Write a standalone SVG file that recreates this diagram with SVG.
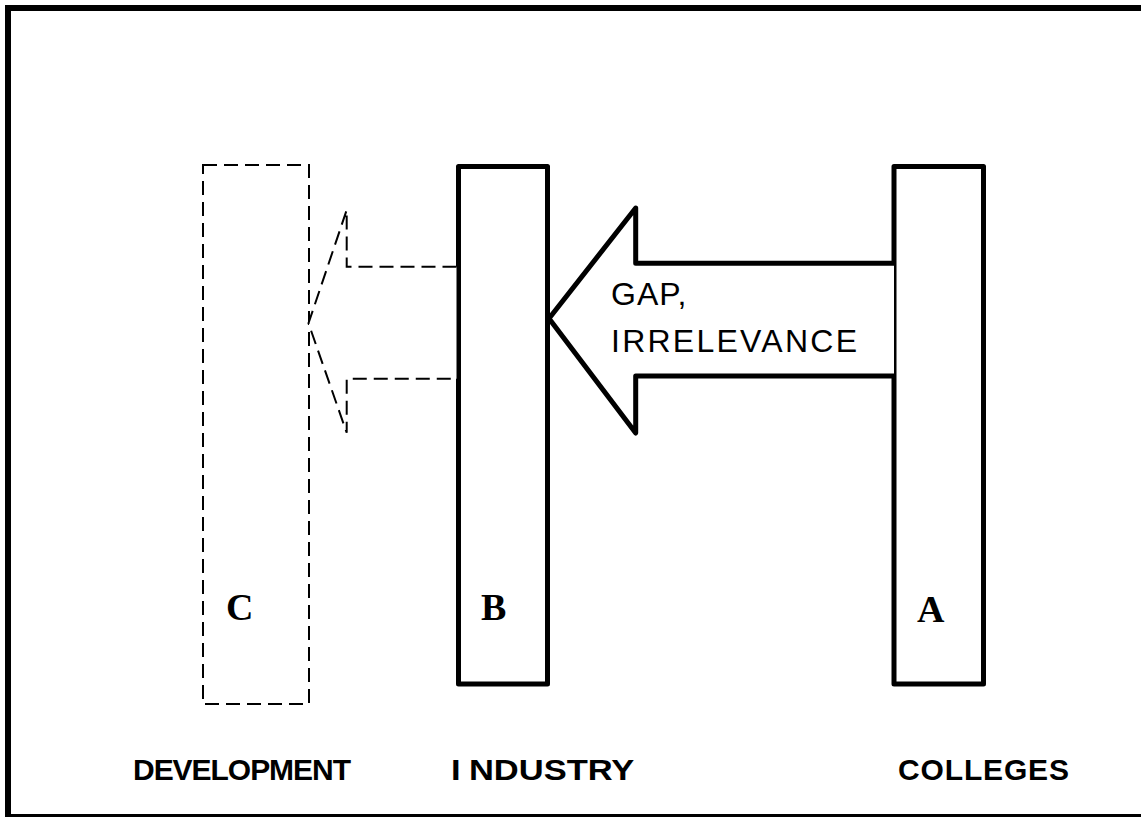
<svg xmlns="http://www.w3.org/2000/svg" width="1141" height="817" viewBox="0 0 1141 817">
<style>
.solid{fill:#fff;stroke:#000;stroke-width:5;stroke-linejoin:round}
.dash{fill:#fff;stroke:#000;stroke-width:2;stroke-dasharray:14 7}
.letter{font-family:"Liberation Serif","Times New Roman",serif;font-weight:bold;font-size:38px;fill:#000}
.label{font-family:"Liberation Sans",Arial,sans-serif;font-weight:bold;font-size:30px;fill:#000}
.gap{font-family:"Liberation Sans",Arial,sans-serif;font-size:32px;fill:#000}
</style>
<rect width="1141" height="817" fill="#fff"/>
<rect x="8" y="8" width="1140" height="809" fill="none" stroke="#000" stroke-width="6"/>
<g id="node-C">
<rect class="dash" x="203" y="165" width="106" height="539"/>
<text class="letter" x="226" y="620">C</text>
</g>
<g id="node-B">
<rect class="solid" x="458.5" y="166.5" width="89" height="517.5"/>
<text class="letter" x="481" y="620">B</text>
</g>
<g id="node-A">
<rect class="solid" x="894" y="166.5" width="89.5" height="517.5"/>
<text class="letter" x="917" y="622">A</text>
</g>
<g id="connectors">
<path class="solid" d="M894,263.3 H635.7 V208 L549,318.5 L635.7,433 V376 H894"/>
<path class="dash" d="M456.5,266.7 H346.7 V210 L308.5,323.3 L346.7,432.7 V378.7 H456.5"/>
</g>
<g id="arrow-label">
<text class="gap" x="611" y="305" letter-spacing="1">GAP,</text>
<text class="gap" x="611" y="352" textLength="246" lengthAdjust="spacing">IRRELEVANCE</text>
</g>
<g id="labels">
<text class="label" x="133" y="780" textLength="218" lengthAdjust="spacing">DEVELOPMENT</text>
<text class="label" transform="translate(451,780) scale(1.15,1)"><tspan x="0">I</tspan><tspan x="15.6">NDUSTRY</tspan></text>
<text class="label" x="898" y="780" textLength="171" lengthAdjust="spacing">COLLEGES</text>
</g>
</svg>
